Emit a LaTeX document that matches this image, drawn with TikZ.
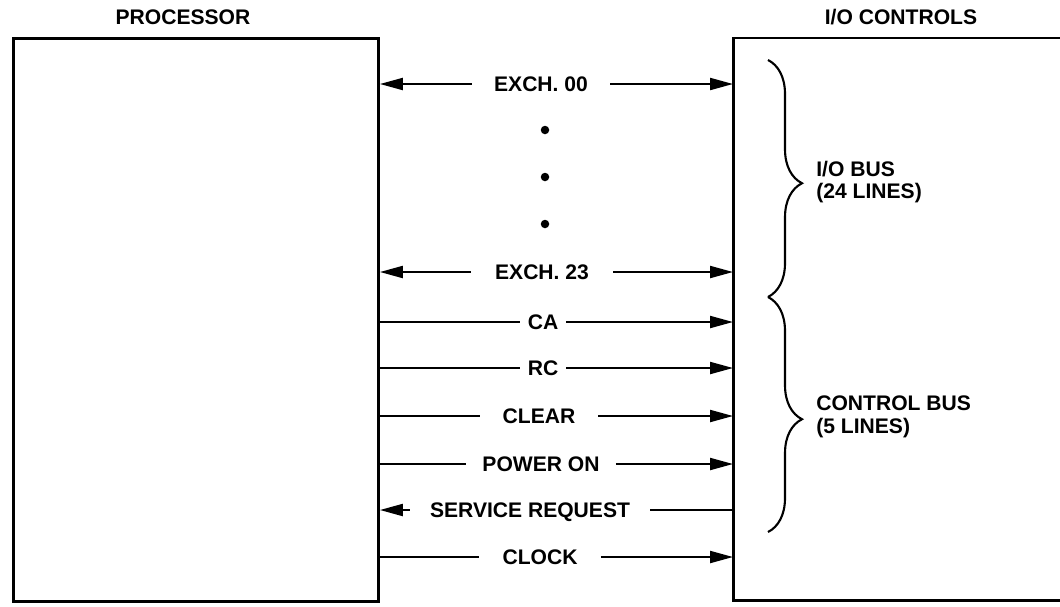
\documentclass[tikz,border=0pt]{standalone}
\usepackage{fontspec}
\setmainfont{Liberation Sans}
\usetikzlibrary{arrows.meta,decorations.pathreplacing}
\begin{document}
\begin{tikzpicture}[x=0.02cm,y=-0.02cm,
  frame/.style={line width=1.7pt},
  procbox/.style={draw,frame,minimum width=7.3cm,minimum height=11.26cm,anchor=north west,inner sep=0pt},
  iobox/.style={minimum width=6.54cm,minimum height=11.24cm,anchor=north west,inner sep=0pt},
  title/.style={font=\fontsize{12}{14}\selectfont\bfseries},
  sig/.style={font=\fontsize{12}{14}\selectfont\bfseries,text height=8.6pt,text depth=0pt,inner ysep=0pt},
  wire/.style={line width=1.2pt},
  tipr/.style={wire,-{Triangle[length=0.46cm,width=0.24cm]}},
  dot/.style={circle,fill,inner sep=0pt,minimum size=0.17cm},
  bus/.style={line width=1.2pt,decorate,decoration={brace,amplitude=0.68cm,aspect=0.52}},
  buslabel/.style={font=\fontsize{12}{13}\selectfont\bfseries,align=left,anchor=west,inner sep=0pt}
]
\useasboundingbox (0,0) rectangle (1060,606);

% boxes
\node[procbox] (proc) at (12,37) {};
\node[iobox] (io) at (733,38) {};
\draw[frame] (io.north east) -- (io.north west) -- (io.south west) -- (io.south east);

% titles
\node[title] (ptitle) at (183,17) {PROCESSOR};
\node[title] (iotitle) at (901,17) {I/O CONTROLS};

% signal labels
\node[sig,inner xsep=0.44cm] (x00) at (541,84) {EXCH. 00};
\node[dot] (d1) at (545,130) {};
\node[dot] (d2) at (545,177) {};
\node[dot] (d3) at (545,224) {};
\node[sig,inner xsep=0.48cm] (x23) at (542,272) {EXCH. 23};
\node[sig,inner xsep=0.15cm] (ca) at (543,322) {CA};
\node[sig,inner xsep=0.15cm] (rc) at (543,368) {RC};
\node[sig,inner xsep=0.45cm] (clr) at (539,416) {CLEAR};
\node[sig,inner xsep=0.32cm] (pon) at (541,464) {POWER ON};
\node[sig,inner xsep=0.4cm] (srq) at (530,510) {SERVICE REQUEST};
\node[sig,inner xsep=0.46cm] (clk) at (540,557) {CLOCK};

% connectors
\draw[tipr] (x00.west) -- (proc.east |- x00);
\draw[tipr] (x00.east) -- (io.west |- x00);
\draw[tipr] (x23.west) -- (proc.east |- x23);
\draw[tipr] (x23.east) -- (io.west |- x23);
\draw[wire] (proc.east |- ca) -- (ca.west);
\draw[tipr] (ca.east) -- (io.west |- ca);
\draw[wire] (proc.east |- rc) -- (rc.west);
\draw[tipr] (rc.east) -- (io.west |- rc);
\draw[wire] (proc.east |- clr) -- (clr.west);
\draw[tipr] (clr.east) -- (io.west |- clr);
\draw[wire] (proc.east |- pon) -- (pon.west);
\draw[tipr] (pon.east) -- (io.west |- pon);
\draw[tipr] (srq.west) -- (proc.east |- srq);
\draw[wire] (io.west |- srq) -- (srq.east);
\draw[wire] (proc.east |- clk) -- (clk.west);
\draw[tipr] (clk.east) -- (io.west |- clk);

% braces
\coordinate (b1t) at (768,60);
\coordinate (b1b) at (768,297);
\coordinate (b2b) at (768,532);
\draw[bus] (b1t) -- (b1b);
\draw[bus] (b1b) -- (b2b);
\node[buslabel] (iobus) at (816,182) {I/O BUS\\(24 LINES)};
\node[buslabel] (ctlbus) at (816,417) {CONTROL BUS\\(5 LINES)};
\end{tikzpicture}
\end{document}
